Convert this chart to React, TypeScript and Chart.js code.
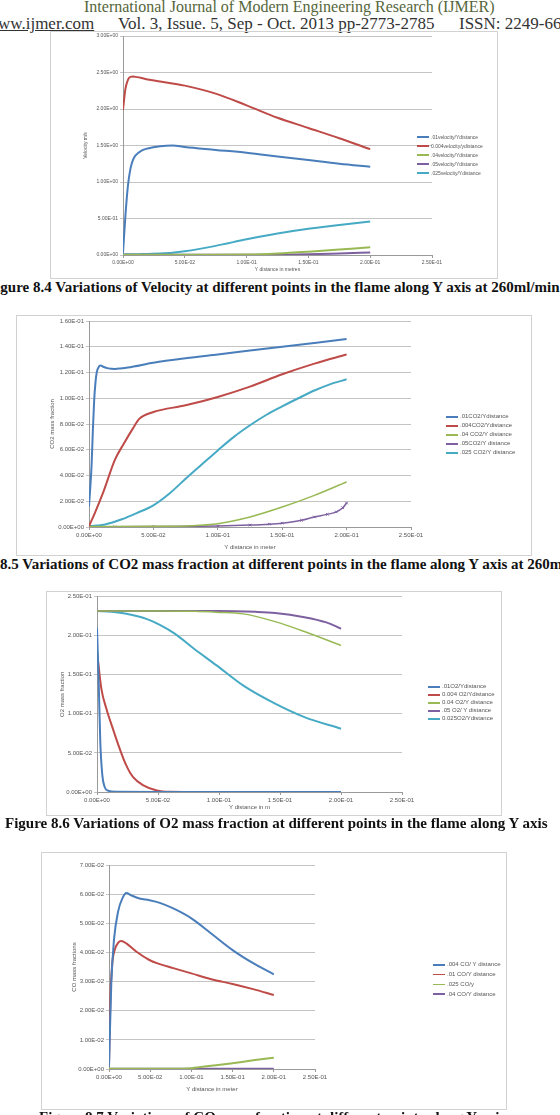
import React, { useEffect, useRef } from "react";
import { Chart, registerables } from "chart.js";
Chart.register(...registerables);

// ---------------- Figure 8.4 : velocity ----------------
const VEL_X = [0, 0.002, 0.004, 0.006, 0.008, 0.01, 0.015, 0.02, 0.03, 0.04, 0.05, 0.075, 0.1, 0.125, 0.15, 0.175, 0.2];
const VEL_01 = [0.03, 0.55, 0.95, 1.18, 1.3, 1.36, 1.43, 1.46, 1.49, 1.5, 1.48, 1.44, 1.4, 1.35, 1.3, 1.25, 1.21];
const VEL_004 = [1.99, 2.28, 2.4, 2.44, 2.445, 2.44, 2.425, 2.405, 2.378, 2.35, 2.32, 2.21, 2.05, 1.88, 1.74, 1.6, 1.45];
const VEL_04 = [0.004, 0.004, 0.004, 0.004, 0.004, 0.004, 0.004, 0.004, 0.004, 0.004, 0.004, 0.004, 0.006, 0.02, 0.045, 0.075, 0.105];
const VEL_05 = [0.002, 0.002, 0.002, 0.002, 0.002, 0.002, 0.002, 0.002, 0.002, 0.002, 0.002, 0.002, 0.003, 0.004, 0.01, 0.022, 0.035];
const VEL_025 = [0.01, 0.01, 0.01, 0.01, 0.01, 0.01, 0.012, 0.015, 0.02, 0.03, 0.05, 0.125, 0.215, 0.295, 0.36, 0.41, 0.46];
const VEL_LABELS = [".01velocity/Ydistance", "0.004velocity/ydistance", ".04velocity/Ydistance", ".05velocity/Ydistance", ".025velocity/Ydistance"];

// ---------------- Figure 8.5 : CO2 ----------------
const CO2_01_X = [0, 0.002, 0.003, 0.004, 0.005, 0.006, 0.008, 0.009, 0.011, 0.015, 0.02, 0.03, 0.05, 0.075, 0.1, 0.125, 0.15, 0.175, 0.2];
const CO2_01_Y = [0.016, 0.048, 0.075, 0.098, 0.112, 0.12, 0.125, 0.1255, 0.1245, 0.1232, 0.1228, 0.1238, 0.1275, 0.131, 0.134, 0.137, 0.14, 0.143, 0.146];
const CO2_004_X = [0, 0.005, 0.0116, 0.02, 0.027, 0.034, 0.039, 0.05, 0.075, 0.1, 0.125, 0.15, 0.175, 0.2];
const CO2_004_Y = [0.0005, 0.012, 0.0285, 0.052, 0.0647, 0.0764, 0.084, 0.0893, 0.0945, 0.101, 0.109, 0.1186, 0.1269, 0.134];
const CO2_04_X = [0, 0.05, 0.08, 0.1, 0.125, 0.15, 0.175, 0.2];
const CO2_04_Y = [0.0003, 0.0005, 0.001, 0.0026, 0.0078, 0.0155, 0.0246, 0.035];
const CO2_05_X = [0, 0.02, 0.05, 0.08, 0.1, 0.125, 0.14, 0.15, 0.165, 0.175, 0.185, 0.192, 0.197, 0.2];
const CO2_05_Y = [0.0002, 0.0002, 0.0003, 0.0005, 0.0008, 0.0015, 0.0022, 0.003, 0.0052, 0.0078, 0.0098, 0.0117, 0.015, 0.0186];
const CO2_025_X = [0, 0.0125, 0.0255, 0.0375, 0.05, 0.0625, 0.075, 0.0875, 0.1, 0.1125, 0.125, 0.1375, 0.15, 0.1625, 0.175, 0.1875, 0.2];
const CO2_025_Y = [0.0005, 0.002, 0.006, 0.011, 0.0168, 0.026, 0.0375, 0.0485, 0.0595, 0.07, 0.079, 0.087, 0.0937, 0.1, 0.106, 0.111, 0.1147];
const CO2_LABELS = [".01CO2/Ydistance", ".004CO2/Ydistance", ".04 CO2/Y distance", ".05CO2/Y distance", ".025 CO2/Y distance"];

// ---------------- Figure 8.6 : O2 ----------------
const O2_01_X = [0, 0.0008, 0.0016, 0.0027, 0.0044, 0.0063, 0.009, 0.016, 0.05, 0.1, 0.15, 0.2];
const O2_01_Y = [0.21, 0.17, 0.128, 0.064, 0.021, 0.0064, 0.0017, 0.0002, 0, 0, 0, 0];
const O2_004_X = [0, 0.0036, 0.0077, 0.013, 0.0186, 0.024, 0.0296, 0.038, 0.049, 0.06, 0.1, 0.15, 0.2];
const O2_004_Y = [0.18, 0.132, 0.1065, 0.081, 0.0554, 0.034, 0.019, 0.0085, 0.002, 0.0003, 0, 0, 0];
const O2_04_X = [0, 0.05, 0.08, 0.098, 0.12, 0.146, 0.17, 0.2];
const O2_04_Y = [0.2317, 0.2317, 0.2312, 0.23, 0.2279, 0.218, 0.2053, 0.1874];
const O2_05_X = [0, 0.1, 0.13, 0.146, 0.17, 0.188, 0.196, 0.2];
const O2_05_Y = [0.2317, 0.2317, 0.2305, 0.229, 0.2236, 0.217, 0.212, 0.2087];
const O2_025_X = [0, 0.012, 0.024, 0.0405, 0.0515, 0.064, 0.079, 0.098, 0.12, 0.146, 0.17, 0.2];
const O2_025_Y = [0.2317, 0.2305, 0.228, 0.2215, 0.2138, 0.2023, 0.184, 0.162, 0.136, 0.113, 0.0958, 0.081];
const O2_LABELS = [".01O2/Ydistance", "0.004 O2/Ydistance", "0.04 O2/Y distance", ".05 O2/ Y distance", "0.025O2/Ydistance"];

// ---------------- Figure 8.7 : CO ----------------
const CO_004_X = [0, 0.0028, 0.006, 0.011, 0.017, 0.021, 0.027, 0.037, 0.049, 0.0616, 0.078, 0.1, 0.124, 0.15, 0.175, 0.2];
const CO_004_Y = [0.0009, 0.0294, 0.0442, 0.054, 0.059, 0.0604, 0.0596, 0.0585, 0.0579, 0.057, 0.0551, 0.0517, 0.0465, 0.0408, 0.0363, 0.0325];
const CO_01_X = [0, 0.0016, 0.004, 0.0069, 0.011, 0.015, 0.021, 0.033, 0.049, 0.0616, 0.078, 0.1, 0.124, 0.15, 0.175, 0.2];
const CO_01_Y = [0.0009, 0.0237, 0.0363, 0.0408, 0.0433, 0.0439, 0.0431, 0.0403, 0.0374, 0.036, 0.0346, 0.0328, 0.0308, 0.0292, 0.0274, 0.0254];
const CO_025_X = [0, 0.08, 0.1, 0.124, 0.15, 0.175, 0.2];
const CO_025_Y = [0.0001, 0.0001, 0.0003, 0.0011, 0.002, 0.003, 0.0039];
const CO_04_X = [0, 0.1, 0.2];
const CO_04_Y = [0.0001, 0.0001, 0.0001];
const CO_LABELS = [".004 CO/ Y distance", ".01 CO/Y distance", ".025 CO/y", ".04 CO/Y distance"];

const BLUE = "#4a7ebb";
const RED = "#be4b48";
const GREEN = "#98b954";
const PURPLE = "#7d60a0";
const CYAN = "#46aac5";

function sci(v: number): string {
  if (Math.abs(v) < 1e-12) return "0.00E+00";
  let e = Math.floor(Math.log10(Math.abs(v)) + 1e-9);
  let ms = (v / Math.pow(10, e)).toFixed(2);
  if (parseFloat(ms) >= 10) {
    e += 1;
    ms = (v / Math.pow(10, e)).toFixed(2);
  }
  return ms + "E" + (e < 0 ? "-" : "+") + String(Math.abs(e)).padStart(2, "0");
}

const pts = (xs: number[], ys: number[]) => xs.map((x, i) => ({ x, y: ys[i] }));

type Series = { label: string; xs: number[]; ys: number[]; color: string; width?: number; marker?: string };

type PanelProps = {
  frame: [number, number, number, number];
  plot: [number, number, number, number];
  xMax: number;
  xStep: number;
  yMax: number;
  yStep: number;
  series: Series[];
  legendX: number;
  legendY: number;
  legendDy: number;
  yTitle: string;
  yTitleX: number;
  xTitle: string;
  xTitleY: number;
  fontSize: number;
};

const TICK_FONT = "'Liberation Sans', Arial, sans-serif";

function Panel(p: PanelProps) {
  const ref = useRef<HTMLCanvasElement | null>(null);
  const [x0, y0, x1, y1] = p.frame;
  const W = x1 - x0;
  const H = y1 - y0;
  const L = p.plot[0] - x0;
  const T = p.plot[1] - y0;
  const R = p.plot[2] - x0;
  const B = p.plot[3] - y0;
  useEffect(() => {
    if (!ref.current) return;
    const font = { family: TICK_FONT, size: p.fontSize };
    const lh = p.fontSize * 1.2;
    const chart = new Chart(ref.current, {
      type: "line",
      data: {
        datasets: p.series.map((s) => ({
          label: s.label,
          data: pts(s.xs, s.ys),
          borderColor: s.color,
          backgroundColor: s.color,
          borderWidth: s.width ?? 2,
          pointRadius: s.marker ? 1.8 : 0,
          pointStyle: (s.marker as any) || "circle",
          pointBorderWidth: 1,
          cubicInterpolationMode: "monotone" as const,
          fill: false,
        })),
      },
      options: {
        animation: false,
        responsive: false,
        maintainAspectRatio: false,
        layout: { padding: { left: 0, top: T, right: W - R, bottom: 0 } },
        plugins: { legend: { display: false }, tooltip: { enabled: false } },
        scales: {
          x: {
            type: "linear",
            min: 0,
            max: p.xMax,
            ticks: { stepSize: p.xStep, callback: (v: any) => sci(Number(v)), font, color: "#555", padding: 2, maxRotation: 0, autoSkip: false },
            grid: { drawOnChartArea: false, drawTicks: true, tickLength: 3, color: "#9a9a9a" },
            border: { color: "#9a9a9a" },
            title: { display: true, text: p.xTitle, font, color: "#555", padding: { top: 0, bottom: H - (p.xTitleY - y0) - lh / 2 } },
            afterFit: (s: any) => {
              s.height = H - B;
            },
          },
          y: {
            type: "linear",
            min: 0,
            max: p.yMax,
            ticks: { stepSize: p.yStep, callback: (v: any) => sci(Number(v)), font, color: "#555", padding: 2, autoSkip: false },
            grid: { color: "#c4c4c4", tickLength: 3 },
            border: { color: "#9a9a9a" },
            title: { display: true, text: p.yTitle, font, color: "#555", padding: { top: p.yTitleX - x0 - lh / 2, bottom: 0 } },
            afterFit: (s: any) => {
              s.width = L;
            },
          },
        },
      },
    } as any);
    return () => chart.destroy();
  }, []);
  return (
    <>
      <div
        style={{
          position: "absolute",
          left: x0,
          top: y0,
          width: W,
          height: H,
          boxSizing: "border-box",
          border: "1.5px solid #d2d2d2",
        }}
      />
      <canvas ref={ref} width={W} height={H} style={{ position: "absolute", left: x0, top: y0, width: W, height: H }} />
      {p.series.map((s, i) => {
        const cy = p.legendY + i * p.legendDy;
        return (
          <div key={i}>
            <div style={{ position: "absolute", left: p.legendX, top: cy - 0.75, width: 12, height: 1.5, background: s.color }} />
            <div
              style={{
                position: "absolute",
                left: p.legendX + 14,
                top: cy - p.fontSize * 0.6,
                fontFamily: TICK_FONT,
                fontSize: p.fontSize,
                lineHeight: 1.2,
                color: "#555",
                whiteSpace: "nowrap",
              }}
            >
              {s.label}
            </div>
          </div>
        );
      })}
    </>
  );
}

const serif = "'Liberation Serif', 'Times New Roman', serif";

function Caption({ text, left, top }: { text: string; left: number; top: number }) {
  return (
    <div
      style={{
        position: "absolute",
        left,
        top,
        fontFamily: serif,
        fontWeight: "bold",
        fontSize: 15,
        lineHeight: "16px",
        whiteSpace: "nowrap",
        color: "#111",
      }}
    >
      {text}
    </div>
  );
}

export default function App() {
  return (
    <div style={{ position: "absolute", left: 0, top: 0, width: 560, height: 1115, overflow: "hidden", background: "#fff" }}>
      <div style={{ position: "absolute", left: 84, top: -2, fontFamily: serif, fontSize: 16, lineHeight: "17px", color: "#55663a", whiteSpace: "nowrap" }}>
        International Journal of Modern Engineering Research (IJMER)
      </div>
      <div style={{ position: "absolute", left: -2, top: 15, fontFamily: serif, fontSize: 17, lineHeight: "18px", color: "#333", whiteSpace: "nowrap", textDecoration: "underline" }}>
        ww.ijmer.com
      </div>
      <div style={{ position: "absolute", left: 118, top: 15, fontFamily: serif, fontSize: 17, lineHeight: "18px", color: "#333", whiteSpace: "nowrap" }}>
        Vol. 3, Issue. 5, Sep - Oct. 2013 pp-2773-2785
      </div>
      <div style={{ position: "absolute", left: 459, top: 15, fontFamily: serif, fontSize: 17, lineHeight: "18px", color: "#333", whiteSpace: "nowrap" }}>
        ISSN: 2249-6645
      </div>

      <Panel
        frame={[50, 31, 498, 279]}
        plot={[123, 35, 432, 255]}
        xMax={0.25}
        xStep={0.05}
        yMax={3}
        yStep={0.5}
        series={[
          { label: VEL_LABELS[0], xs: VEL_X, ys: VEL_01, color: BLUE },
          { label: VEL_LABELS[1], xs: VEL_X, ys: VEL_004, color: RED },
          { label: VEL_LABELS[2], xs: VEL_X, ys: VEL_04, color: GREEN },
          { label: VEL_LABELS[3], xs: VEL_X, ys: VEL_05, color: PURPLE },
          { label: VEL_LABELS[4], xs: VEL_X, ys: VEL_025, color: CYAN },
        ]}
        legendX={417}
        legendY={137}
        legendDy={9}
        yTitle="Velocity m/s"
        yTitleX={86}
        xTitle="Y distance in metres"
        xTitleY={270}
        fontSize={5}
      />
      <Caption text="Figure 8.4 Variations of Velocity at different points in the flame along Y axis at 260ml/min" left={-13} top={279} />

      <Panel
        frame={[16, 315, 532, 556]}
        plot={[89, 321, 411, 527]}
        xMax={0.25}
        xStep={0.05}
        yMax={0.16}
        yStep={0.02}
        series={[
          { label: CO2_LABELS[0], xs: CO2_01_X, ys: CO2_01_Y, color: BLUE },
          { label: CO2_LABELS[1], xs: CO2_004_X, ys: CO2_004_Y, color: RED },
          { label: CO2_LABELS[2], xs: CO2_04_X, ys: CO2_04_Y, color: GREEN, width: 1.5 },
          { label: CO2_LABELS[3], xs: CO2_05_X, ys: CO2_05_Y, color: PURPLE, width: 1.5, marker: "crossRot" },
          { label: CO2_LABELS[4], xs: CO2_025_X, ys: CO2_025_Y, color: CYAN },
        ]}
        legendX={446}
        legendY={417}
        legendDy={9}
        yTitle="CO2 mass fraction"
        yTitleX={52}
        xTitle="Y distance in meter"
        xTitleY={547}
        fontSize={6}
      />
      <Caption text="Figure 8.5 Variations of CO2 mass fraction at different points in the flame along Y axis at 260ml/min" left={-46} top={556} />

      <Panel
        frame={[46, 591, 502, 816]}
        plot={[97, 596, 402, 792]}
        xMax={0.25}
        xStep={0.05}
        yMax={0.25}
        yStep={0.05}
        series={[
          { label: O2_LABELS[0], xs: O2_01_X, ys: O2_01_Y, color: BLUE },
          { label: O2_LABELS[1], xs: O2_004_X, ys: O2_004_Y, color: RED },
          { label: O2_LABELS[2], xs: O2_04_X, ys: O2_04_Y, color: GREEN, width: 1.5 },
          { label: O2_LABELS[3], xs: O2_05_X, ys: O2_05_Y, color: PURPLE },
          { label: O2_LABELS[4], xs: O2_025_X, ys: O2_025_Y, color: CYAN },
        ]}
        legendX={428}
        legendY={687}
        legendDy={8}
        yTitle="O2 mass fraction"
        yTitleX={62}
        xTitle="Y distance in m"
        xTitleY={807}
        fontSize={6}
      />
      <Caption text="Figure 8.6 Variations of O2 mass fraction at different points in the flame along Y axis" left={5} top={815} />

      <Panel
        frame={[41, 852, 507, 1110]}
        plot={[109, 865, 315, 1069]}
        xMax={0.25}
        xStep={0.05}
        yMax={0.07}
        yStep={0.01}
        series={[
          { label: CO_LABELS[0], xs: CO_004_X, ys: CO_004_Y, color: BLUE },
          { label: CO_LABELS[1], xs: CO_01_X, ys: CO_01_Y, color: RED },
          { label: CO_LABELS[2], xs: CO_025_X, ys: CO_025_Y, color: GREEN },
          { label: CO_LABELS[3], xs: CO_04_X, ys: CO_04_Y, color: PURPLE },
        ]}
        legendX={433}
        legendY={965}
        legendDy={9.7}
        yTitle="CO mass fractions"
        yTitleX={74}
        xTitle="Y distance in meter"
        xTitleY={1089}
        fontSize={6}
      />
      <Caption text="Figure 8.7 Variations of CO mass fraction at different points along Y axis" left={39} top={1109} />
    </div>
  );
}
